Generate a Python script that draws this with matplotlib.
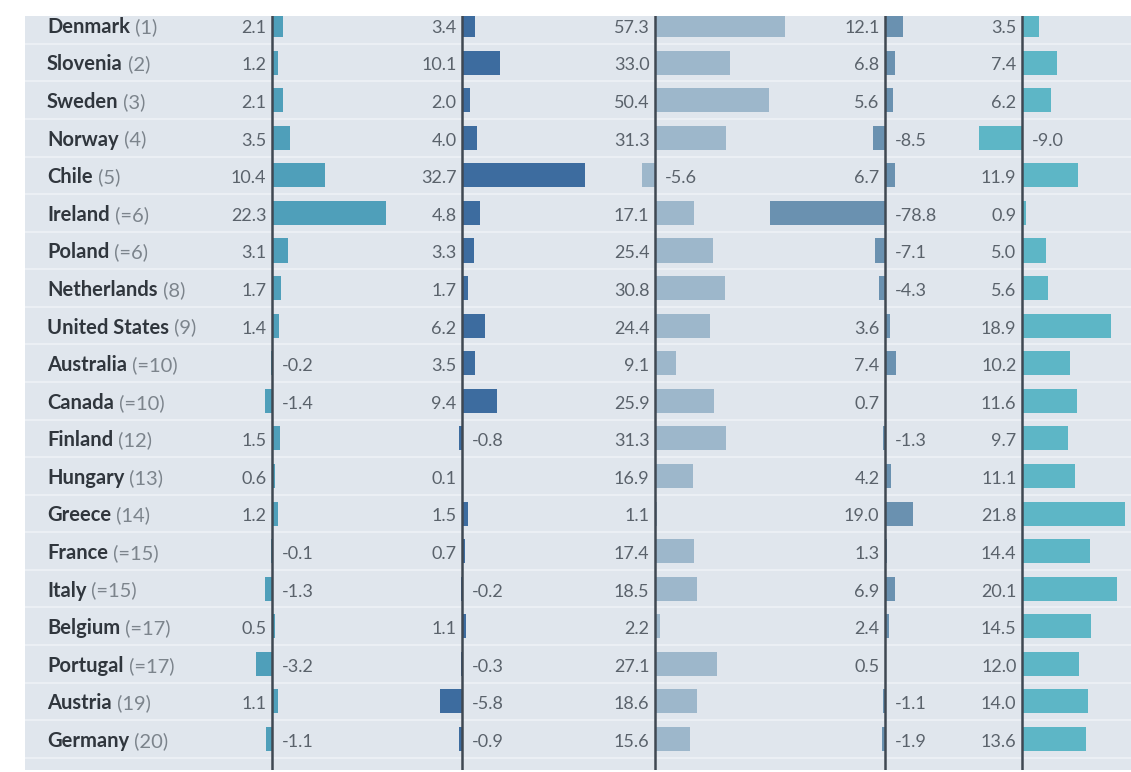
import numpy as np
import matplotlib
matplotlib.use("Agg")
import matplotlib.pyplot as plt

# ========== DATA ==========
countries = ["Denmark", "Slovenia", "Sweden", "Norway", "Chile", "Ireland",
             "Poland", "Netherlands", "United States", "Australia", "Canada",
             "Finland", "Hungary", "Greece", "France", "Italy", "Belgium",
             "Portugal", "Austria", "Germany"]
ranks = ["(1)", "(2)", "(3)", "(4)", "(5)", "(=6)", "(=6)", "(8)", "(9)",
         "(=10)", "(=10)", "(12)", "(13)", "(14)", "(=15)", "(=15)", "(=17)",
         "(=17)", "(19)", "(20)"]

col1 = [2.1, 1.2, 2.1, 3.5, 10.4, 22.3, 3.1, 1.7, 1.4, -0.2,
        -1.4, 1.5, 0.6, 1.2, -0.1, -1.3, 0.5, -3.2, 1.1, -1.1]
col2 = [3.4, 10.1, 2.0, 4.0, 32.7, 4.8, 3.3, 1.7, 6.2, 3.5,
        9.4, -0.8, 0.1, 1.5, 0.7, -0.2, 1.1, -0.3, -5.8, -0.9]
col3 = [57.3, 33.0, 50.4, 31.3, -5.6, 17.1, 25.4, 30.8, 24.4, 9.1,
        25.9, 31.3, 16.9, 1.1, 17.4, 18.5, 2.2, 27.1, 18.6, 15.6]
col4 = [12.1, 6.8, 5.6, -8.5, 6.7, -78.8, -7.1, -4.3, 3.6, 7.4,
        0.7, -1.3, 4.2, 19.0, 1.3, 6.9, 2.4, 0.5, -1.1, -1.9]
col5 = [3.5, 7.4, 6.2, -9.0, 11.9, 0.9, 5.0, 5.6, 18.9, 10.2,
        11.6, 9.7, 11.1, 21.8, 14.4, 20.1, 14.5, 12.0, 14.0, 13.6]

# ========== STYLE / LAYOUT ==========
W, H = 1131, 772
panel_left, panel_top, panel_bottom = 25, 16, 770
bg = "#e0e6ed"
sep_color = "#eef2f6"
zero_color = "#3f4852"
name_color = "#30363d"
rank_color = "#7c848c"
num_color = "#5a626b"

# (values, zero line x in px, px per unit, bar colour)
columns = [
    (col1, 272, 5.1, "#4f9fba"),
    (col2, 462, 3.75, "#3d6c9f"),
    (col3, 655, 2.27, "#9db7cb"),
    (col4, 885, 1.46, "#6a91b0"),
    (col5, 1022, 4.73, "#5db6c6"),
]

plt.rcParams["font.family"] = ["Lato", "DejaVu Sans"]

fig = plt.figure(figsize=(W / 100, H / 100), dpi=100)
fig.patch.set_facecolor("white")

rect = [panel_left / W, (H - panel_bottom) / H,
        (W - panel_left) / W, (panel_bottom - panel_top) / H]
row_px = 37.58
y_top = -(25 - panel_top) / row_px
y_bot = (panel_bottom - 25) / row_px
rows = np.arange(len(countries))
base = 0.21  # baseline offset below row centre, in rows

# Background panel with row separators and country names
bgax = fig.add_axes(rect)
bgax.set_facecolor(bg)
bgax.set_xlim(panel_left, W)
bgax.set_ylim(y_bot, y_top)
for s in bgax.spines.values():
    s.set_visible(False)
bgax.set_xticks([])
bgax.set_yticks([])
for i in range(len(countries) + 1):
    bgax.axhline(i + 0.5, color=sep_color, lw=1.2, zorder=1)

renderer = fig.canvas.get_renderer()
for i, (name, rk) in enumerate(zip(countries, ranks)):
    t = bgax.text(47, i + base, name, fontsize=14.5, fontweight="bold",
                  color=name_color, va="baseline", ha="left", clip_on=True)
    w = t.get_window_extent(renderer).width
    bgax.annotate(" " + rk, xy=(47, i + base), xytext=(w * 72 / 100, 0),
                  textcoords="offset points", fontsize=14.5, color=rank_color,
                  va="baseline", ha="left", annotation_clip=False, clip_on=True)

# One transparent axes per column, each with its own scale
for vals, zero_px, scale, color in columns:
    ax = fig.add_axes(rect, sharey=bgax)
    ax.patch.set_alpha(0)
    ax.set_xlim((panel_left - zero_px) / scale, (W - zero_px) / scale)
    ax.set_ylim(y_bot, y_top)
    for s in ax.spines.values():
        s.set_visible(False)
    ax.tick_params(left=False, bottom=False, labelleft=False, labelbottom=False)
    ax.barh(rows, vals, height=0.64, color=color, zorder=2)
    ax.axvline(0, color=zero_color, lw=1.8, zorder=3)
    for i, v in enumerate(vals):
        if v >= 0:
            off, ha = -4, "right"
        else:
            off, ha = 7, "left"
        ax.annotate(f"{v:.1f}", xy=(0, i + base), xytext=(off, 0),
                    textcoords="offset points", fontsize=13, color=num_color,
                    va="baseline", ha=ha, zorder=4, clip_on=True)

fig.savefig("out.png", dpi=100, facecolor="white")
